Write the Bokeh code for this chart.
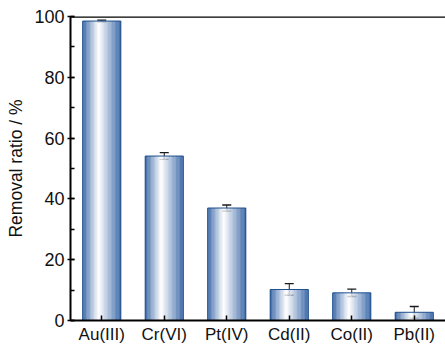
from bokeh.plotting import figure
from bokeh.models import (ColumnDataSource, Whisker, TeeHead, FixedTicker,
                          SingleIntervalTicker, Range1d, Span)
from bokeh.embed import file_html
from bokeh.resources import INLINE

# Removal ratio (%) of each metal ion, with standard deviation
ions = ["Au(III)", "Cr(VI)", "Pt(IV)", "Cd(II)", "Co(II)", "Pb(II)"]
removal = [98.5, 54.1, 37.0, 10.2, 9.1, 2.7]
errors = [0.3, 1.1, 1.0, 1.9, 1.2, 1.9]
y_ticks = [0, 20, 40, 60, 80, 100]

BAR_W = 0.61
N_SLICES = 48
EDGE = (38, 88, 158)
PEAK = 0.42


def shade(t):
    # cylinder-like shading: dark blue at both edges, white near PEAK
    d = abs(t - PEAK) / (PEAK if t < PEAK else 1 - PEAK)
    k = min(1.0, d * 1.08) ** 1.05
    r, g, b = (int(round(255 + (c - 255) * k)) for c in EDGE)
    return f"#{r:02x}{g:02x}{b:02x}"


xs = list(range(len(ions)))

sl_left, sl_right, sl_top, sl_color = [], [], [], []
for x, v in zip(xs, removal):
    x0 = x - BAR_W / 2
    step = BAR_W / N_SLICES
    for i in range(N_SLICES):
        sl_left.append(x0 + i * step)
        sl_right.append(x0 + (i + 1) * step + step * 0.02)
        sl_top.append(v)
        sl_color.append(shade((i + 0.5) / N_SLICES))

p = figure(width=445, height=346, output_backend="svg", toolbar_location=None,
           x_range=Range1d(-0.5, 5.5), y_range=Range1d(0, 100),
           min_border_left=70, min_border_right=0, min_border_top=16,
           min_border_bottom=26)
p.outline_line_color = None
p.grid.visible = False
p.background_fill_color = "white"
p.border_fill_color = "white"

p.quad(left=sl_left, right=sl_right, bottom=0, top=sl_top,
       fill_color=sl_color, line_color=None)

bars = ColumnDataSource(dict(x=xs, top=removal,
                             upper=[v + e for v, e in zip(removal, errors)],
                             lower=[v - e for v, e in zip(removal, errors)]))
p.vbar(x="x", top="top", width=BAR_W, bottom=0, source=bars,
       fill_color=None, line_color="#1f4f8c", line_width=1)

p.add_layout(Whisker(source=bars, base="x", upper="upper", lower="lower",
                     line_color="#1a1a1a", line_width=1,
                     upper_head=TeeHead(size=9, line_color="#1a1a1a", line_width=1.3),
                     lower_head=TeeHead(size=9, line_color="#1a1a1a", line_width=1.3)))

# top frame line
p.add_layout(Span(location=100, dimension="width", line_color="black", line_width=2.5))

font = "Liberation Sans"

xa = p.xaxis[0]
xa.ticker = FixedTicker(ticks=xs)
xa.major_label_overrides = {i: n for i, n in enumerate(ions)}
xa.axis_line_width = 2
xa.axis_line_color = "black"
xa.major_tick_in = 5
xa.major_tick_out = 0
xa.major_tick_line_width = 1.5
xa.minor_tick_line_color = None
xa.major_label_text_font = font
xa.major_label_text_font_size = "17px"
xa.major_label_text_color = "#111111"
xa.major_label_standoff = 4

ya = p.yaxis[0]
ya.ticker = SingleIntervalTicker(interval=20, num_minor_ticks=2)
ya.axis_line_width = 2
ya.axis_line_color = "black"
ya.major_tick_in = 4
ya.major_tick_out = 3
ya.major_tick_line_width = 1.5
ya.minor_tick_in = 4
ya.minor_tick_out = 0
ya.minor_tick_line_width = 1.5
ya.major_label_text_font = font
ya.major_label_text_font_size = "18px"
ya.major_label_text_color = "#111111"
ya.major_label_standoff = 3
ya.axis_label = "Removal ratio / %"
ya.axis_label_text_font = font
ya.axis_label_text_font_size = "17.5px"
ya.axis_label_text_font_style = "normal"
ya.axis_label_text_color = "#111111"
ya.axis_label_standoff = 5

open("out.html", "w").write(file_html(p, INLINE))
